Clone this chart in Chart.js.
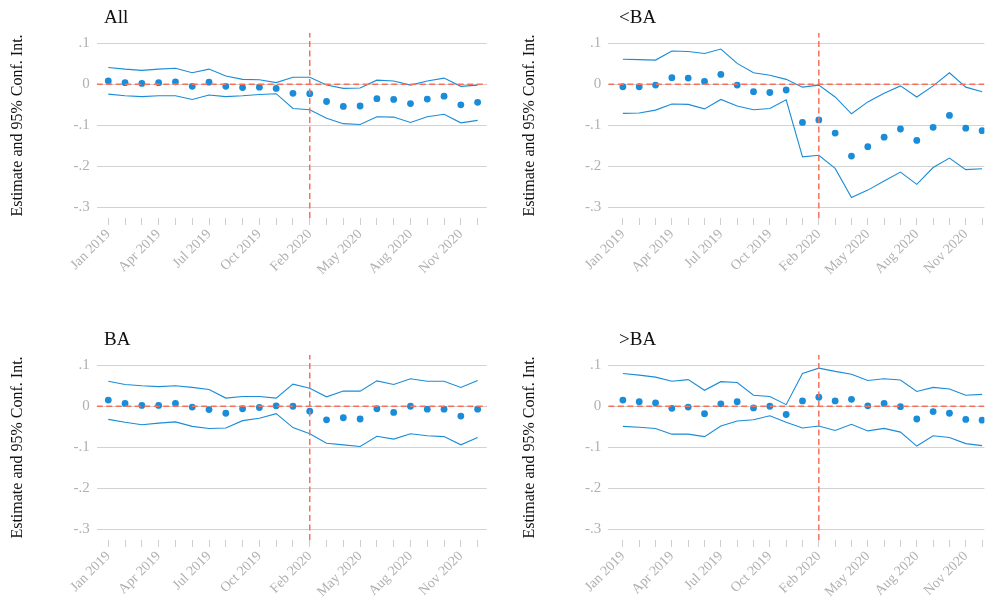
<!DOCTYPE html>
<html>
<head>
<meta charset="utf-8">
<script src="https://cdn.jsdelivr.net/npm/chart.js@4.4.1/dist/chart.umd.min.js"></script>
<style>
  body { margin: 0; background: #fff; }
  #wrap { position: relative; width: 995px; height: 602px; overflow: hidden; background: #fff; }
  canvas { position: absolute; }
</style>
</head>
<body>
<div id="wrap">
  <canvas id="c0" width="497" height="300" style="left:0;top:0"></canvas>
  <canvas id="c1" width="483" height="300" style="left:512px;top:0"></canvas>
  <canvas id="c2" width="497" height="280" style="left:0;top:322px"></canvas>
  <canvas id="c3" width="483" height="280" style="left:512px;top:322px"></canvas>
</div>
<script>
// months on the x axis (one month is missing in the source, so index 12 is Feb 2020)
const months = ['Jan 2019', 'Feb 2019', 'Mar 2019', 'Apr 2019', 'May 2019', 'Jun 2019',
  'Jul 2019', 'Aug 2019', 'Sep 2019', 'Oct 2019', 'Nov 2019', 'Dec 2019',
  'Feb 2020', 'Mar 2020', 'Apr 2020', 'May 2020', 'Jun 2020', 'Jul 2020',
  'Aug 2020', 'Sep 2020', 'Oct 2020', 'Nov 2020', 'Dec 2020'];
const eventIndex = 12;
const yTicks = [-0.3, -0.2, -0.1, 0, 0.1];
const yTickLabels = ['-.3', '-.2', '-.1', '0', '.1'];
const panelTitles = ['All', '<BA', 'BA', '>BA'];

// All
const estAll = [0.008, 0.004, 0.002, 0.004, 0.006, -0.005, 0.005, -0.005, -0.008, -0.007, -0.010, -0.022,
  -0.023, -0.042, -0.054, -0.053, -0.035, -0.037, -0.047, -0.036, -0.029, -0.050, -0.044];
const hiAll = [0.041, 0.037, 0.034, 0.037, 0.039, 0.028, 0.037, 0.020, 0.012, 0.011, 0.004, 0.017,
  0.017, -0.002, -0.010, -0.009, 0.010, 0.008, -0.002, 0.008, 0.015, -0.005, -0.002];
const loAll = [-0.024, -0.028, -0.030, -0.028, -0.028, -0.037, -0.026, -0.030, -0.028, -0.025, -0.023, -0.059,
  -0.062, -0.083, -0.096, -0.098, -0.079, -0.080, -0.093, -0.079, -0.073, -0.094, -0.088];

// <BA
const estLow = [-0.006, -0.006, -0.002, 0.016, 0.015, 0.007, 0.024, -0.002, -0.018, -0.020, -0.014, -0.093,
  -0.087, -0.119, -0.175, -0.152, -0.129, -0.109, -0.137, -0.105, -0.076, -0.107, -0.113];
const hiLow = [0.061, 0.060, 0.059, 0.081, 0.080, 0.075, 0.086, 0.051, 0.028, 0.022, 0.012, -0.007,
  -0.002, -0.031, -0.072, -0.043, -0.022, -0.004, -0.031, -0.004, 0.028, -0.007, -0.018];
const loLow = [-0.071, -0.070, -0.063, -0.048, -0.049, -0.060, -0.037, -0.053, -0.062, -0.059, -0.038, -0.177,
  -0.173, -0.205, -0.276, -0.258, -0.236, -0.214, -0.244, -0.203, -0.180, -0.208, -0.206];

// BA
const estBA = [0.015, 0.007, 0.002, 0.002, 0.007, -0.002, -0.008, -0.017, -0.006, -0.003, 0.001, 0.000,
  -0.012, -0.033, -0.028, -0.031, -0.006, -0.015, 0.000, -0.007, -0.007, -0.024, -0.007];
const hiBA = [0.061, 0.053, 0.050, 0.048, 0.050, 0.046, 0.041, 0.020, 0.024, 0.024, 0.020, 0.054,
  0.044, 0.023, 0.037, 0.037, 0.062, 0.053, 0.067, 0.061, 0.061, 0.046, 0.063];
const loBA = [-0.032, -0.039, -0.045, -0.041, -0.038, -0.049, -0.054, -0.053, -0.035, -0.029, -0.018, -0.052,
  -0.067, -0.090, -0.094, -0.098, -0.073, -0.080, -0.067, -0.072, -0.074, -0.094, -0.076];

// >BA
const estHigh = [0.015, 0.011, 0.008, -0.005, -0.002, -0.018, 0.006, 0.011, -0.004, 0.000, -0.020, 0.013,
  0.022, 0.013, 0.017, 0.001, 0.007, -0.001, -0.031, -0.013, -0.017, -0.032, -0.034];
const hiHigh = [0.080, 0.076, 0.071, 0.061, 0.065, 0.039, 0.060, 0.058, 0.027, 0.024, 0.004, 0.080,
  0.093, 0.085, 0.078, 0.063, 0.067, 0.064, 0.036, 0.046, 0.042, 0.027, 0.029];
const loHigh = [-0.049, -0.051, -0.054, -0.068, -0.068, -0.074, -0.048, -0.036, -0.033, -0.023, -0.039, -0.053,
  -0.048, -0.059, -0.044, -0.060, -0.054, -0.063, -0.097, -0.072, -0.076, -0.091, -0.096];

const panels = [
  { id: 'c0', est: estAll, hi: hiAll, lo: loAll, xmin: -0.69, xmax: 22.54, yw: 96.7, padRight: 10.3, titleX: 104 },
  { id: 'c1', est: estLow, hi: hiLow, lo: loLow, xmin: -0.893, xmax: 22.14, yw: 96.3, padRight: 0, titleX: 107 },
  { id: 'c2', est: estBA, hi: hiBA, lo: loBA, xmin: -0.69, xmax: 22.54, yw: 96.7, padRight: 10.3, titleX: 104 },
  { id: 'c3', est: estHigh, hi: hiHigh, lo: loHigh, xmin: -0.893, xmax: 22.14, yw: 96.3, padRight: 0, titleX: 107 }
];

const yMin = -0.326, yMax = 0.125;
const blue = '#1a8cd8';
const red = '#f8705a';
const serif = "'Liberation Serif', 'DejaVu Serif', serif";

// panel title drawn in the top-left corner
const panelTitle = {
  id: 'panelTitle',
  afterDraw(chart, args, opts) {
    const ctx = chart.ctx;
    ctx.save();
    ctx.font = '19px ' + serif;
    ctx.fillStyle = '#111';
    ctx.textBaseline = 'alphabetic';
    ctx.fillText(opts.text, opts.x, 23);
    ctx.restore();
  }
};

const pts = arr => arr.map((v, i) => ({ x: i, y: v }));

panels.forEach((p, k) => {
  const canvas = document.getElementById(p.id);
  const H = canvas.height;
  new Chart(canvas.getContext('2d'), {
    type: 'line',
    data: {
      datasets: [
        { data: [{ x: p.xmin, y: 0 }, { x: p.xmax, y: 0 }], borderColor: red, borderWidth: 1.5,
          borderDash: [6, 3.5], pointRadius: 0 },
        { data: [{ x: eventIndex, y: yMin }, { x: eventIndex, y: yMax }], borderColor: red, borderWidth: 1.5,
          borderDash: [6, 3.5], pointRadius: 0 },
        { data: pts(p.hi), borderColor: blue, borderWidth: 1.1, pointRadius: 0, tension: 0 },
        { data: pts(p.lo), borderColor: blue, borderWidth: 1.1, pointRadius: 0, tension: 0 },
        { data: pts(p.est), showLine: false, pointRadius: 3.4, pointBackgroundColor: blue,
          pointBorderWidth: 0, borderColor: blue }
      ]
    },
    options: {
      responsive: false,
      animation: false,
      layout: { padding: { left: 0, top: 33, right: p.padRight, bottom: 0 } },
      plugins: {
        legend: { display: false },
        tooltip: { enabled: false },
        panelTitle: { text: panelTitles[k], x: p.titleX }
      },
      scales: {
        x: {
          type: 'linear',
          min: p.xmin,
          max: p.xmax,
          afterFit: s => { s.height = H - 218; },
          border: { display: false },
          grid: { drawOnChartArea: false, drawTicks: true, tickLength: 7, color: '#cfcfcf' },
          ticks: {
            stepSize: 1,
            autoSkip: false,
            includeBounds: false,
            minRotation: 45,
            maxRotation: 45,
            padding: 1,
            color: '#b0b0b0',
            font: { family: serif, size: 14 },
            callback: v => (Number.isInteger(v) && v % 3 === 0 && months[v]) ? months[v] : ''
          }
        },
        y: {
          min: yMin,
          max: yMax,
          afterFit: s => { s.width = p.yw; },
          afterBuildTicks: s => { s.ticks = yTicks.map(v => ({ value: v })); },
          border: { display: false },
          grid: { drawTicks: false, color: '#d2d2d2', lineWidth: 1 },
          ticks: {
            padding: 7,
            color: '#b0b0b0',
            font: { family: serif, size: 15 },
            callback: v => yTickLabels[yTicks.findIndex(t => Math.abs(t - v) < 1e-9)]
          },
          title: {
            display: true,
            text: 'Estimate and 95% Conf. Int.',
            color: '#111',
            font: { family: serif, size: 16 },
            padding: { top: 8, bottom: 0 }
          }
        }
      }
    },
    plugins: [panelTitle]
  });
});
</script>
</body>
</html>
